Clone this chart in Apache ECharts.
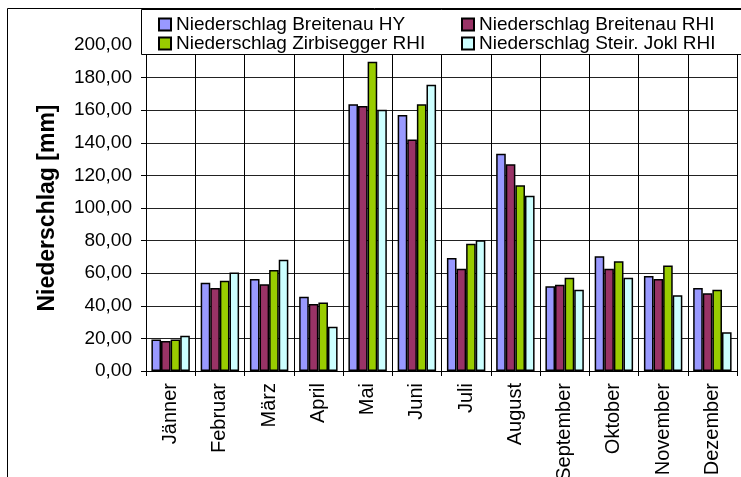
<!DOCTYPE html>
<html><head><meta charset="utf-8">
<script src="https://cdn.jsdelivr.net/npm/echarts@6/dist/echarts.min.js"></script>
<style>html,body{margin:0;padding:0;background:#fff}#c{width:741px;height:477px}</style>
</head><body><div id="c"></div>
<script>
const months = ['Jänner','Februar','März','April','Mai','Juni','Juli','August','September','Oktober','November','Dezember'];
const seriesNames = ['Niederschlag Breitenau HY','Niederschlag Breitenau RHI','Niederschlag Zirbisegger RHI','Niederschlag Steir. Jokl RHI'];
const breitenauHY  = [19.4, 54.2, 56.4, 45.6, 163.6, 157.0, 69.3, 133.3, 52.0, 70.4, 58.3, 50.9];
const breitenauRHI = [18.4, 50.9, 53.2, 41.1, 162.6, 142.1, 62.8, 126.8, 52.9, 62.8, 56.4, 47.7];
const zirbisegger  = [19.4, 55.4, 62.0, 42.1, 189.8, 163.6, 78.1, 113.9, 57.2, 67.3, 64.8, 49.9];
const steirJokl    = [21.7, 60.5, 68.3, 27.2, 160.3, 175.6, 80.2, 107.5, 49.9, 57.2, 46.4, 23.7];
const colors = ['#9999FF','#993366','#99CC00','#CCFFFF'];
const FONT = '"Liberation Sans", Arial, sans-serif';

const chart = echarts.init(document.getElementById('c'));
const values = [breitenauHY, breitenauRHI, zirbisegger, steirJokl];
const legendText = {fontFamily: FONT, fontSize: 19, color: '#000', lineHeight: 18};
chart.setOption({
  animation: false,
  textStyle: {fontFamily: FONT, color: '#000'},
  grid: {left: 146, right: 4, top: 45, bottom: 106, containLabel: false, outerBoundsMode: 'none'},
  graphic: [
    {type: 'rect', z: 0, shape: {x: 7.5, y: 8.5, width: 800, height: 500}, style: {fill: 'none', stroke: '#000', lineWidth: 1}},
    {type: 'rect', z: 3, shape: {x: 141.5, y: 9.5, width: 700, height: 45}, style: {fill: '#fff', stroke: '#000', lineWidth: 1}}
  ],
  legend: [
    {data: [seriesNames[0], seriesNames[2]], orient: 'vertical', left: 158, top: 15, itemGap: 0, itemWidth: 12, itemHeight: 12,
     icon: 'rect', padding: 0, textStyle: legendText, z: 5},
    {data: [seriesNames[1], seriesNames[3]], orient: 'vertical', left: 461, top: 15, itemGap: 0, itemWidth: 12, itemHeight: 12,
     icon: 'rect', padding: 0, textStyle: legendText, z: 5}
  ],
  xAxis: {
    type: 'category', data: months, boundaryGap: true,
    axisLine: {lineStyle: {color: '#000', width: 1}},
    axisTick: {show: true, length: 5, lineStyle: {color: '#000'}},
    splitLine: {show: true, lineStyle: {color: '#000', width: 1}},
    axisLabel: {rotate: 90, fontSize: 20, color: '#000', fontFamily: FONT, margin: 12, interval: 0}
  },
  yAxis: {
    type: 'value', min: 0, max: 200, interval: 20,
    name: 'Niederschlag [mm]', nameLocation: 'middle', nameGap: 87, nameRotate: 90,
    nameTextStyle: {fontSize: 23, fontWeight: 'bold', color: '#000', fontFamily: FONT},
    axisLine: {show: true, lineStyle: {color: '#000', width: 1}},
    axisTick: {show: true, length: 5, lineStyle: {color: '#000'}},
    splitLine: {show: true, lineStyle: {color: '#222', width: 1}},
    axisLabel: {fontSize: 19, color: '#000', fontFamily: FONT, margin: 14,
      formatter: v => v.toFixed(2).replace('.', ',')}
  },
  series: values.map((d, i) => ({
    name: seriesNames[i], type: 'bar', data: d, barGap: '0%', barCategoryGap: '22%',
    itemStyle: {color: colors[i], borderColor: '#000', borderWidth: 1.5}
  }))
});
</script></body></html>
